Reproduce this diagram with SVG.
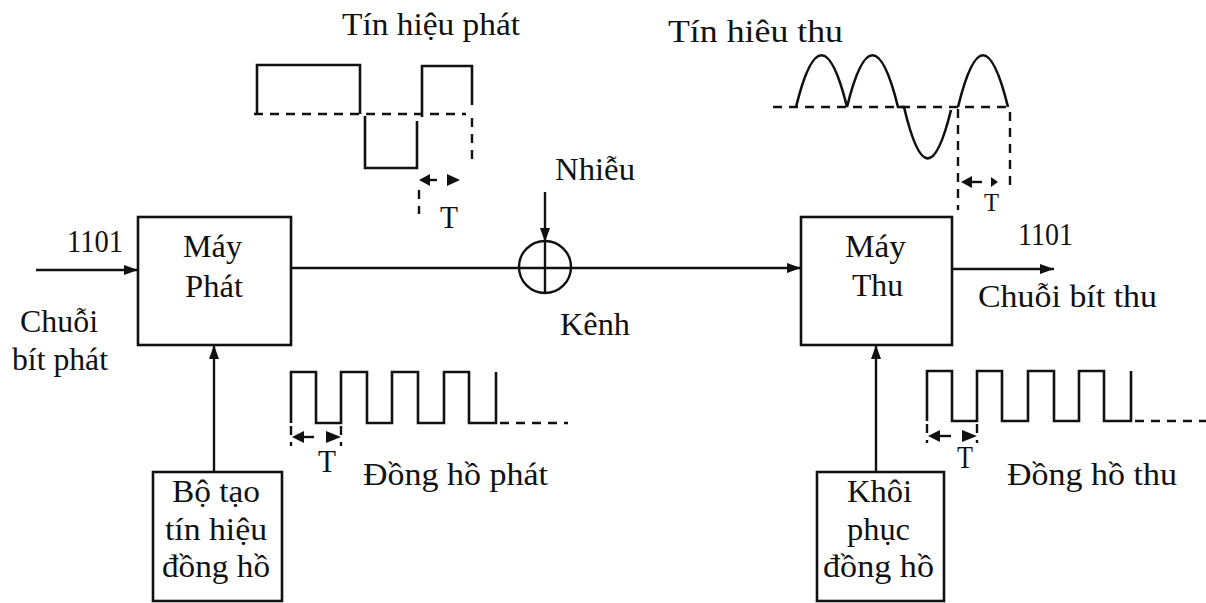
<svg xmlns="http://www.w3.org/2000/svg" width="1206" height="603" viewBox="0 0 1206 603">
<style>
text{font-family:"Liberation Serif","Times New Roman",serif;font-size:31px;fill:#111}
.box{fill:#fff;stroke:#111;stroke-width:2.6}
.ln{fill:none;stroke:#111;stroke-width:2.4}
.wave{fill:none;stroke:#111;stroke-width:2.6}
.dash{fill:none;stroke:#111;stroke-width:2.4;stroke-dasharray:9 7}
.ah{fill:#111}
</style>
<defs>
<marker id="arr" viewBox="0 0 14 10" refX="14" refY="5" markerWidth="14" markerHeight="10" markerUnits="userSpaceOnUse" orient="auto">
<path d="M0,0 L14,5 L0,10 Z" fill="#111"/>
</marker>
</defs>
<rect width="1206" height="603" fill="#fff"/>

<g id="connectors">
<line class="ln" x1="36" y1="270" x2="138" y2="270" marker-end="url(#arr)"/>
<line class="ln" x1="291" y1="268" x2="519" y2="268"/>
<line class="ln" x1="519" y1="268" x2="801" y2="268" marker-end="url(#arr)"/>
<line class="ln" x1="545" y1="192" x2="545" y2="242" marker-end="url(#arr)"/>
<line class="ln" x1="545" y1="241" x2="545" y2="293"/>
<line class="ln" x1="952" y1="269" x2="1054" y2="269" marker-end="url(#arr)"/>
<line class="ln" x1="214" y1="472" x2="214" y2="345" marker-end="url(#arr)"/>
<line class="ln" x1="876" y1="472" x2="876" y2="345" marker-end="url(#arr)"/>
</g>

<g id="channel">
<circle class="ln" cx="545" cy="267" r="26"/>
<text x="555" y="180" textLength="80" lengthAdjust="spacingAndGlyphs">Nhiễu</text>
<text x="560" y="335" textLength="70" lengthAdjust="spacingAndGlyphs">Kênh</text>
</g>

<g id="may-phat">
<rect class="box" x="138" y="217" width="153" height="128"/>
<text x="183" y="257" textLength="59" lengthAdjust="spacingAndGlyphs">Máy</text>
<text x="185" y="297" textLength="58" lengthAdjust="spacingAndGlyphs">Phát</text>
</g>

<g id="input-label">
<text x="67" y="252" textLength="56" lengthAdjust="spacingAndGlyphs">1101</text>
<text x="20" y="332" textLength="78" lengthAdjust="spacingAndGlyphs">Chuỗi</text>
<text x="12" y="370" textLength="96" lengthAdjust="spacingAndGlyphs">bít phát</text>
</g>

<g id="may-thu">
<rect class="box" x="801" y="217" width="151" height="128"/>
<text x="845" y="257" textLength="61" lengthAdjust="spacingAndGlyphs">Máy</text>
<text x="852" y="296" textLength="51" lengthAdjust="spacingAndGlyphs">Thu</text>
</g>

<g id="output-label">
<text x="1018" y="245" textLength="55" lengthAdjust="spacingAndGlyphs">1101</text>
<text x="978" y="307" textLength="179" lengthAdjust="spacingAndGlyphs">Chuỗi bít thu</text>
</g>

<g id="bo-tao">
<rect class="box" x="153" y="472" width="129" height="129"/>
<text x="172" y="502" textLength="88" lengthAdjust="spacingAndGlyphs">Bộ tạo</text>
<text x="165" y="540" textLength="102" lengthAdjust="spacingAndGlyphs">tín hiệu</text>
<text x="162" y="577" textLength="108" lengthAdjust="spacingAndGlyphs">đồng hồ</text>
</g>

<g id="khoi-phuc">
<rect class="box" x="817" y="472" width="127" height="129"/>
<text x="847" y="502" textLength="65" lengthAdjust="spacingAndGlyphs">Khôi</text>
<text x="847" y="540" textLength="63" lengthAdjust="spacingAndGlyphs">phục</text>
<text x="823" y="577" textLength="111" lengthAdjust="spacingAndGlyphs">đồng hồ</text>
</g>

<g id="tx-signal">
<text x="342" y="35" textLength="178" lengthAdjust="spacingAndGlyphs">Tín hiệu phát</text>
<path class="wave" d="M257,113 V65 H360 V114"/>
<path class="wave" d="M365,116 V168 H417 V121"/>
<path class="wave" d="M422,117 V66 H472 V105"/>
<line class="dash" x1="254" y1="114" x2="466" y2="114"/>
<line class="dash" x1="472" y1="118" x2="472" y2="162"/>
<line class="dash" x1="419" y1="190" x2="419" y2="214"/>
<path class="ah" d="M419,180 L430,174 L430,186 Z"/>
<line class="ln" x1="428" y1="180" x2="437" y2="180"/>
<path class="ah" d="M460,180 L447,174 L447,186 Z"/>
<text x="440" y="228" textLength="18" lengthAdjust="spacingAndGlyphs">T</text>
</g>

<g id="rx-signal">
<text x="668" y="42" textLength="175" lengthAdjust="spacingAndGlyphs">Tín hiêu thu</text>
<path class="wave" d="M796,107 C813,38 830,38 847,107 C864,38 881,38 898,107 L904,107 C920,175 935,175 951,110"/>
<path class="wave" d="M958,107 C975,38 991,38 1008,107"/>
<line class="dash" x1="773" y1="107" x2="1010" y2="107"/>
<line class="dash" x1="958" y1="109" x2="958" y2="210"/>
<line class="dash" x1="1010" y1="112" x2="1010" y2="188"/>
<path class="ah" d="M961,182 L972,176 L972,188 Z"/>
<line class="ln" x1="970" y1="182" x2="982" y2="182"/>
<path class="ah" d="M998,182 L991,177 L991,187 Z"/>
<text x="984" y="211" style="font-size:26px" textLength="15" lengthAdjust="spacingAndGlyphs">T</text>
</g>

<g id="tx-clock">
<path class="wave" d="M291,423 V372 H316 V423 H341 V372 H367 V423 H392 V372 H418 V423 H444 V372 H469 V423 H496 V372"/>
<line class="dash" x1="500" y1="423" x2="568" y2="423"/>
<line class="dash" x1="291" y1="426" x2="291" y2="446"/>
<line class="dash" x1="341" y1="426" x2="341" y2="446"/>
<path class="ah" d="M292,437 L304,431 L304,443 Z"/>
<line class="ln" x1="302" y1="437" x2="314" y2="437"/>
<path class="ah" d="M341,437 L326,431 L326,443 Z"/>
<text x="318" y="472" textLength="18" lengthAdjust="spacingAndGlyphs">T</text>
<text x="363" y="485" textLength="185" lengthAdjust="spacingAndGlyphs">Đồng hồ phát</text>
</g>

<g id="rx-clock">
<path class="wave" d="M927,421 V371 H952 V421 H977 V371 H1002 V421 H1028 V371 H1054 V421 H1079 V371 H1104 V421 H1131 V371"/>
<line class="dash" x1="1135" y1="421" x2="1206" y2="421"/>
<line class="dash" x1="927" y1="424" x2="927" y2="443"/>
<line class="dash" x1="977" y1="424" x2="977" y2="443"/>
<path class="ah" d="M928,436 L940,430 L940,442 Z"/>
<line class="ln" x1="938" y1="436" x2="951" y2="436"/>
<path class="ah" d="M977,436 L962,430 L962,442 Z"/>
<text x="957" y="468" textLength="16" lengthAdjust="spacingAndGlyphs">T</text>
<text x="1007" y="485" textLength="170" lengthAdjust="spacingAndGlyphs">Đồng hồ thu</text>
</g>
</svg>
